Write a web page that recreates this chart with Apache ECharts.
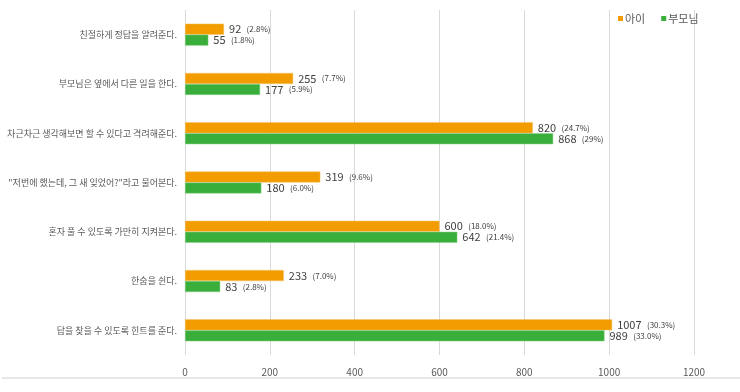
<!DOCTYPE html>
<html><head><meta charset="utf-8">
<script src="https://cdn.jsdelivr.net/npm/echarts@6/dist/echarts.min.js"></script>
<style>html,body{margin:0;padding:0;background:#fff}#c{width:740px;height:392px}</style>
</head><body><div id="c"></div>
<script>
const categories = ['친절하게 정답을 알려준다.','부모님은 옆에서 다른 일을 한다.','차근차근 생각해보면 할 수 있다고 격려해준다.','"저번에 했는데, 그 새 잊었어?"라고 물어본다.','혼자 풀 수 있도록 가만히 지켜본다.','한숨을 쉰다.','답을 찾을 수 있도록 힌트를 준다.'];
const childValues = [92,255,820,319,600,233,1007];
const childPct = ['2.8%','7.7%','24.7%','9.6%','18.0%','7.0%','30.3%'];
const parentValues = [55,177,868,180,642,83,989];
const parentPct = ['1.8%','5.9%','29%','6.0%','21.4%','2.8%','33.0%'];
const xTicks = [0,200,400,600,800,1000,1200];

const font = '"Noto Sans CJK KR", "Noto Sans", sans-serif';
function lbl(pcts){
  return {show:true, position:'right', distance:5, fontFamily:font,
    formatter:p=>'{v|'+p.value+'}  {p|('+pcts[p.dataIndex]+')}',
    rich:{v:{fontSize:11,color:'#404040',fontFamily:font},p:{fontSize:8,color:'#404040',fontFamily:font}}};
}
const chart = echarts.init(document.getElementById('c'));
chart.setOption({
  animation:false,
  textStyle:{fontFamily:font},
  legend:{data:['아이','부모님'], left:613, top:8, itemWidth:5, itemHeight:5, itemGap:16,
    icon:'rect', itemStyle:{borderWidth:0},
    textStyle:{fontSize:11,color:'#595959',fontFamily:font,padding:[0,0,0,-3]}},
  grid:{left:185, right:46, top:10, bottom:37, containLabel:false, outerBoundsMode:'none'},
  xAxis:{type:'value', min:xTicks[0], max:xTicks[xTicks.length-1], interval:200,
    axisLine:{show:false}, axisTick:{show:false},
    splitLine:{lineStyle:{color:'#d9d9d9'}},
    axisLabel:{fontSize:10,color:'#595959',margin:12,fontFamily:font,formatter:v=>String(v)}},
  yAxis:{type:'category', data:categories, inverse:true,
    axisLine:{show:false}, axisTick:{show:false},
    axisLabel:{fontSize:9,color:'#595959',margin:8,fontFamily:font}},
  graphic:[{type:'line', shape:{x1:2,y1:378,x2:740,y2:378}, style:{stroke:'#d0d0d0',lineWidth:1}}],
  series:[
    {name:'아이', type:'bar', data:childValues, barWidth:11, barGap:'0%',
      itemStyle:{color:'#F29C00', borderColor:'#F7C56A', borderWidth:0.5}, label:lbl(childPct)},
    {name:'부모님', type:'bar', data:parentValues, barWidth:11, barGap:'0%',
      itemStyle:{color:'#3AAE3A', borderColor:'#8ED18E', borderWidth:0.5}, label:lbl(parentPct)}
  ]
});
</script></body></html>
